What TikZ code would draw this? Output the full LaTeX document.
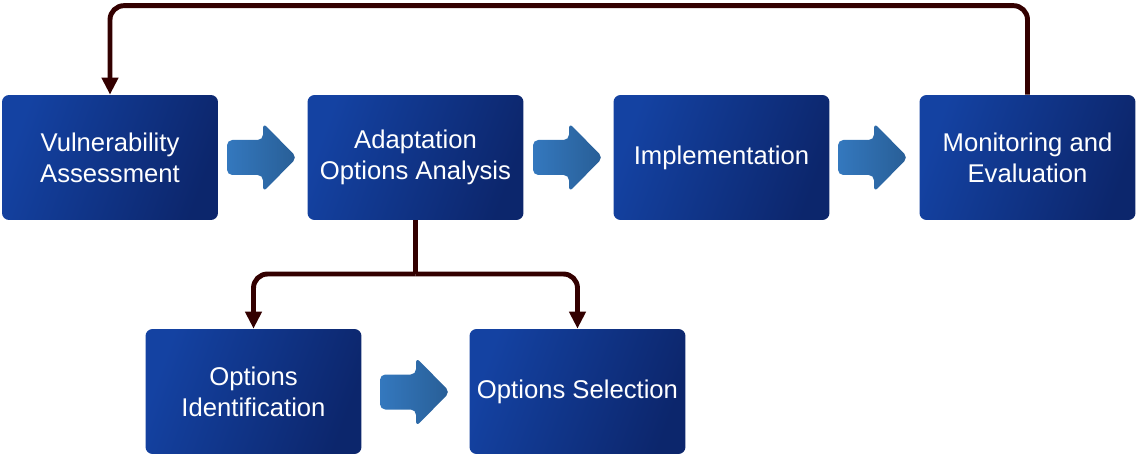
\documentclass[tikz,border=0pt]{standalone}
\usepackage{fontspec}
\setmainfont{Liberation Sans}
\usetikzlibrary{arrows.meta}
\definecolor{boxlight}{RGB}{20,66,162}
\definecolor{boxdark}{RGB}{12,38,108}
\definecolor{arrlight}{RGB}{52,120,190}
\definecolor{arrdark}{RGB}{40,94,150}
\definecolor{linkbrown}{RGB}{51,0,0}
\begin{document}
\begin{tikzpicture}[x=0.02cm,y=-0.02cm,
  stage/.style={rounded corners=4,left color=boxlight,right color=boxdark,shading angle=70,
    minimum width=4.32cm,minimum height=2.5cm,text=white,align=center,
    font=\fontsize{14.6}{17.6}\selectfont},
  link/.style={linkbrown,line width=2.8pt,rounded corners=8,-{Triangle[width=0.32cm,length=0.34cm]}}]
\useasboundingbox (0,0) rectangle (1137,456);
\foreach \n/\x/\y/\lab in {b1/110/157.5/{Vulnerability\\Assessment},b2/415.5/157.5/{Adaptation\\Options Analysis},
  b3/721.5/157.5/{Implementation},b4/1027.5/157.5/{Monitoring and\\Evaluation},
  b5/253.5/391.5/{Options\\Identification},b6/577.5/391.5/{Options Selection}}{\node[stage] (\n) at (\x,\y){\lab};}
\foreach \x/\y in {227/157.5,533/157.5,838/157.5,380/392}{
  \shade[left color=arrlight,right color=arrdark,rounded corners=3] (\x,\y-17.5)--(\x+36,\y-17.5)--(\x+36,\y-34.5)
    --(\x+70,\y)--(\x+36,\y+34.5)--(\x+36,\y+17.5)--(\x,\y+17.5)--cycle;}
\draw[link] (b4.north)--++(0,-89)-|(b1.north);
\coordinate (fork) at (415.5,274);
\draw[link,-] (b2.south)--(fork);
\draw[link] (fork)-|(b5.north);
\draw[link] (fork)-|(b6.north);
\end{tikzpicture}
\end{document}
